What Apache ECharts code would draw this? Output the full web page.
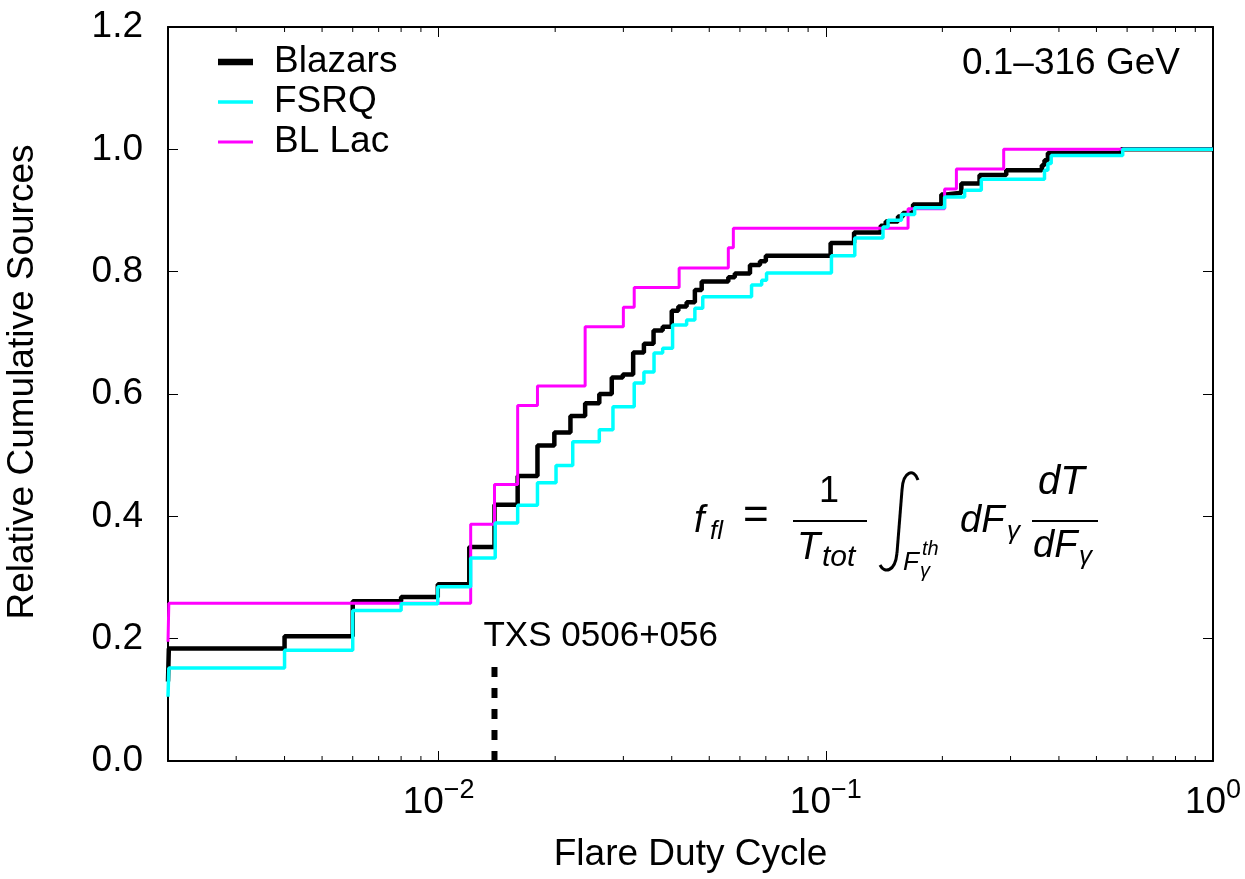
<!DOCTYPE html>
<html>
<head>
<meta charset="utf-8">
<title>Flare Duty Cycle</title>
<script src="https://cdn.jsdelivr.net/npm/echarts@6/dist/echarts.min.js"></script>
<style>
    html, body { margin: 0; padding: 0; background: #fff; }
    #main { width: 1245px; height: 879px; }
</style>
</head>
<body>
<div id="main"></div>
<script>
    // [duty cycle, cumulative fraction after the step]
    var blazars = [
        [0.002, 0.13], [0.00201, 0.184], [0.0040, 0.204], [0.0060, 0.261], [0.0080, 0.268],
        [0.00995, 0.289], [0.0120, 0.350], [0.01394, 0.419], [0.0160, 0.466], [0.0180, 0.516],
        [0.0199, 0.537], [0.0219, 0.564], [0.0239, 0.585], [0.0260, 0.600], [0.0280, 0.627],
        [0.0299, 0.632], [0.0318, 0.668], [0.0339, 0.682], [0.0359, 0.704], [0.0379, 0.710],
        [0.0400, 0.736], [0.0416, 0.743], [0.0437, 0.750], [0.0459, 0.770], [0.0478, 0.784],
        [0.0560, 0.791], [0.0582, 0.797], [0.0637, 0.811], [0.0676, 0.817], [0.0700, 0.826],
        [0.1029, 0.847], [0.1183, 0.864], [0.1386, 0.875], [0.1428, 0.882], [0.1536, 0.890],
        [0.1582, 0.896], [0.168, 0.910], [0.1988, 0.926], [0.2048, 0.929], [0.2239, 0.944],
        [0.2495, 0.958], [0.2924, 0.966], [0.3614, 0.974], [0.3671, 0.982], [0.3746, 0.994],
        [0.579, 1.0], [1, 1.0]
    ];
    var fsrq = [
        [0.002, 0.105], [0.00201, 0.152], [0.0040, 0.181], [0.0060, 0.246], [0.0080, 0.257],
        [0.00995, 0.285], [0.0121, 0.332], [0.0140, 0.389], [0.0160, 0.418], [0.0180, 0.455],
        [0.0201, 0.483], [0.0222, 0.522], [0.0260, 0.5415], [0.0282, 0.579], [0.0320, 0.618],
        [0.0339, 0.636], [0.0360, 0.667], [0.0379, 0.675], [0.0402, 0.713], [0.0437, 0.721],
        [0.0459, 0.740], [0.0481, 0.759], [0.0643, 0.778], [0.0683, 0.786], [0.0703, 0.798],
        [0.1034, 0.826], [0.1188, 0.855], [0.1405, 0.873], [0.1448, 0.884], [0.1568, 0.8935],
        [0.1696, 0.9045], [0.2027, 0.922], [0.2283, 0.933], [0.2521, 0.951], [0.3671, 0.966],
        [0.3746, 0.977], [0.382, 0.990], [0.5845, 1.0], [1, 1.0]
    ];
    var bllac = [
        [0.002, 0.195], [0.00201, 0.258], [0.0121, 0.387], [0.01394, 0.452], [0.0160, 0.581],
        [0.0180, 0.613], [0.0239, 0.710], [0.0300, 0.742], [0.0320, 0.774], [0.0418, 0.806],
        [0.0560, 0.839], [0.0577, 0.871], [0.1631, 0.903], [0.2027, 0.935], [0.2174, 0.968],
        [0.288, 1.0], [1, 1.0]
    ];
    var txsDuty = 0.01394;
    var txsTop = 0.155;
    var minorTicks = [
        0.003, 0.004, 0.005, 0.006, 0.007, 0.008, 0.009,
        0.02, 0.03, 0.04, 0.05, 0.06, 0.07, 0.08, 0.09,
        0.2, 0.3, 0.4, 0.5, 0.6, 0.7, 0.8, 0.9
    ];

    var FONT = "'Liberation Sans', Arial, sans-serif";
    var chart = echarts.init(document.getElementById('main'));

    var frameLine = {show: true, onZero: false, lineStyle: {color: '#000', width: 2}};
    var tickStyle = {inside: true, length: 10, lineStyle: {color: '#000', width: 1}};

    function powLabel(v) {
        var lg = Math.log10(v);
        var e = Math.round(lg);
        if (Math.abs(lg - e) > 1e-6) return '';
        return '{b|10}{s|' + (e < 0 ? '\u2212' + (-e) : e) + '}';
    }

    var option = {
        animation: false,
        backgroundColor: '#fff',
        grid: {left: 168, right: 32, top: 27, bottom: 118, outerBoundsMode: 'none', containLabel: false},
        legend: {
            orient: 'vertical',
            left: 213,
            top: 37,
            itemWidth: 35,
            itemHeight: 14,
            itemGap: 0,
            symbolKeepAspect: true,
            itemStyle: {borderWidth: 0, borderColor: 'transparent'},
            textStyle: {fontSize: 37, fontFamily: FONT, color: '#000', lineHeight: 40, padding: [0, 0, 0, 16]},
            data: [
                {name: 'Blazars', icon: 'path://M0,0H35V6.5H0Z'},
                {name: 'FSRQ', icon: 'path://M0,0H35V3.5H0Z'},
                {name: 'BL Lac', icon: 'path://M0,0H35V3.2H0Z'}
            ]
        },
        xAxis: [{
            type: 'log',
            logBase: 10,
            min: 0.002,
            max: 1,
            axisLine: frameLine,
            axisTick: tickStyle,
            splitLine: {show: false},
            axisLabel: {
                margin: 16,
                formatter: powLabel,
                rich: {
                    b: {fontSize: 37, fontFamily: FONT, color: '#000', lineHeight: 44, verticalAlign: 'bottom'},
                    s: {fontSize: 27, fontFamily: FONT, color: '#000', lineHeight: 27, verticalAlign: 'top'}
                }
            },
            name: 'Flare Duty Cycle',
            nameLocation: 'middle',
            nameGap: 75,
            nameTextStyle: {fontSize: 37, fontFamily: FONT, color: '#000'}
        }, {
            type: 'log',
            logBase: 10,
            position: 'top',
            min: 0.002,
            max: 1,
            axisLine: frameLine,
            axisTick: tickStyle,
            axisLabel: {show: false},
            splitLine: {show: false}
        }],
        yAxis: [{
            type: 'value',
            min: 0,
            max: 1.2,
            interval: 0.2,
            axisLine: frameLine,
            axisTick: tickStyle,
            splitLine: {show: false},
            axisLabel: {
                margin: 25,
                fontSize: 37,
                fontFamily: FONT,
                color: '#000',
                formatter: function (v) { return v.toFixed(1); }
            },
            name: 'Relative Cumulative Sources',
            nameLocation: 'middle',
            nameGap: 127,
            nameTextStyle: {fontSize: 37, fontFamily: FONT, color: '#000', padding: [0, 0, 0, 24]}
        }, {
            type: 'value',
            position: 'right',
            min: 0,
            max: 1.2,
            interval: 0.2,
            axisLine: frameLine,
            axisTick: tickStyle,
            axisLabel: {show: false},
            splitLine: {show: false}
        }],
        series: [{
            name: 'Blazars',
            type: 'line',
            step: 'end',
            data: blazars,
            symbol: 'none',
            showSymbol: false,
            lineStyle: {color: '#000', width: 4.5},
            itemStyle: {color: '#000'}
        }, {
            name: 'BL Lac',
            type: 'line',
            step: 'end',
            data: bllac,
            symbol: 'none',
            showSymbol: false,
            lineStyle: {color: '#ff00ff', width: 3},
            itemStyle: {color: '#ff00ff'}
        }, {
            name: 'FSRQ',
            type: 'line',
            step: 'end',
            data: fsrq,
            symbol: 'none',
            showSymbol: false,
            lineStyle: {color: '#00ffff', width: 3.5},
            itemStyle: {color: '#00ffff'}
        }, {
            // TXS 0506+056 marker
            name: 'TXS 0506+056',
            type: 'line',
            data: [[txsDuty, 0], [txsDuty, txsTop]],
            symbol: 'none',
            showSymbol: false,
            silent: true,
            z: 5,
            lineStyle: {color: '#000', width: 6, type: [10, 11]}
        }, {
            // minor ticks of the log axis, bottom and top
            type: 'custom',
            silent: true,
            clip: false,
            z: 10,
            data: minorTicks.map(function (v) { return [v, 0]; }),
            encode: {x: 0, y: 1},
            renderItem: function (params, api) {
                var x = api.value(0);
                var b = api.coord([x, 0]);
                var t = api.coord([x, 1.2]);
                var st = {stroke: '#000', lineWidth: 1};
                return {
                    type: 'group',
                    children: [
                        {type: 'line', shape: {x1: b[0], y1: b[1], x2: b[0], y2: b[1] - 5}, style: st},
                        {type: 'line', shape: {x1: t[0], y1: t[1], x2: t[0], y2: t[1] + 5}, style: st}
                    ]
                };
            }
        }]
    };
    chart.setOption(option);

    // text placed by baseline: zrender centres on 'middle'
    function txt(s, x, base, size, italic, align) {
        return {
            type: 'text', x: x, y: base - 0.35 * size, z: 20,
            style: {
                text: s, fontSize: size, fontFamily: FONT,
                fontStyle: italic ? 'italic' : 'normal',
                fill: '#000', align: align || 'left', verticalAlign: 'middle'
            }
        };
    }
    function bar(x1, x2, y) {
        return {type: 'line', z: 20, shape: {x1: x1, y1: y, x2: x2, y2: y}, style: {stroke: '#000', lineWidth: 2}};
    }
    var intStyle = {stroke: '#000', lineWidth: 3, fill: null};

    var txsPx = chart.convertToPixel({xAxisIndex: 0, yAxisIndex: 0}, [txsDuty, txsTop]);

    chart.setOption({
        graphic: [
            txt('0.1\u2013316 GeV', 1180, 77, 37, false, 'right'),
            txt('TXS 0506+056', txsPx[0] - 11, txsPx[1] - 18, 35, false),
            // f_fl = 1/T_tot \int_{F_gamma^th} dF_gamma dT/dF_gamma
            txt('f', 694, 535, 38, true),
            txt('fl', 710, 541, 26, true),
            txt('=', 743, 532, 44, false),
            txt('1', 829, 505, 36, false, 'center'),
            bar(793, 867, 521),
            txt('T', 797, 562, 38, true),
            txt('tot', 822, 568, 30, true),
            {type: 'bezierCurve', z: 20, shape: {x1: 918, y1: 480, cpx1: 914, cpy1: 468, cpx2: 903, cpy2: 471, x2: 902, y2: 490}, style: intStyle},
            {type: 'line', z: 20, shape: {x1: 902, y1: 490, x2: 897, y2: 553}, style: intStyle},
            {type: 'bezierCurve', z: 20, shape: {x1: 897, y1: 553, cpx1: 895, cpy1: 573, cpx2: 884, cpy2: 573, x2: 880, y2: 565}, style: intStyle},
            txt('F', 903, 572, 26, true),
            txt('th', 922, 556, 20, true),
            txt('\u03b3', 920, 578, 20, true),
            txt('dF', 960, 535, 38, true),
            txt('\u03b3', 1007, 541, 26, true),
            txt('dT', 1038, 497, 40, true),
            bar(1032, 1098, 521),
            txt('dF', 1033, 560, 38, true),
            txt('\u03b3', 1079, 566, 26, true)
        ]
    });
</script>
</body>
</html>
